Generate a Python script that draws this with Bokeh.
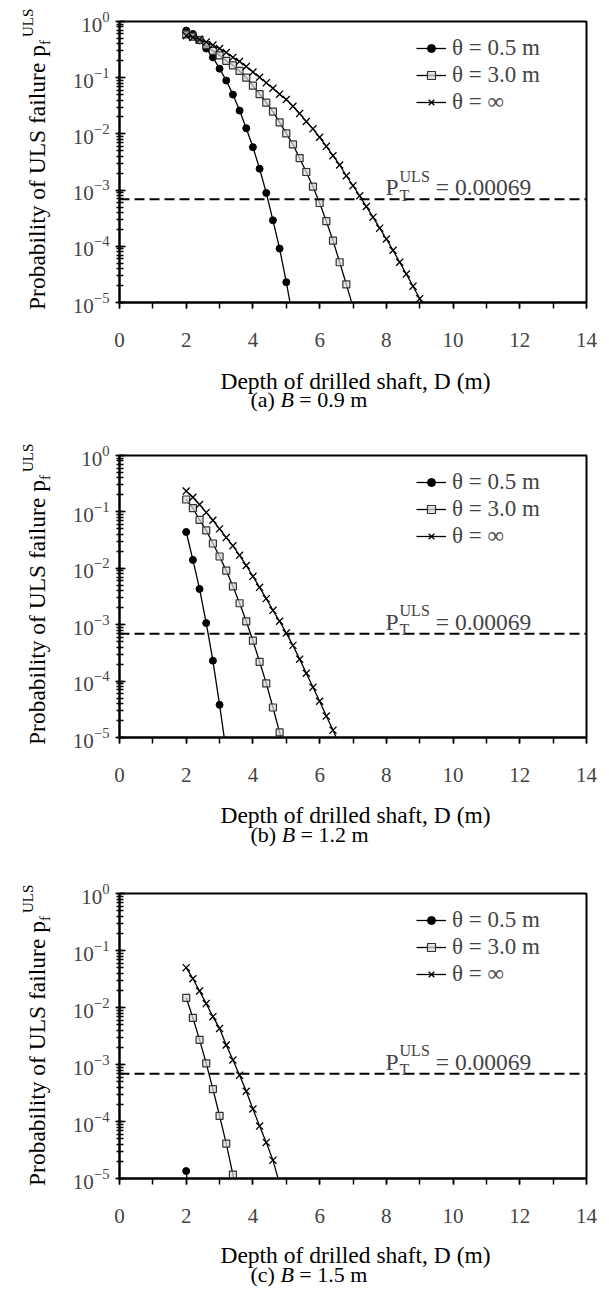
import math
from bokeh.plotting import figure
from bokeh.layouts import column, row
from bokeh.models import (Range1d, SingleIntervalTicker, LogTicker, Span, Label,
                          Legend, LegendItem, Div)
from bokeh.core.properties import value
from bokeh.embed import file_html
from bokeh.resources import INLINE

# ---------------- data ----------------
# Panel (a) B = 0.9 m
d_a_05 = [2.0, 2.2, 2.4, 2.6, 2.8, 3.0, 3.2, 3.4, 3.6, 3.8, 4.0, 4.2, 4.4, 4.6, 4.8, 5.0, 5.2]
p_a_05 = [0.69, 0.60, 0.46, 0.33, 0.23, 0.145, 0.089, 0.050, 0.026, 0.0126, 0.0058, 0.0024,
          8.9e-4, 2.9e-4, 9.1e-5, 2.3e-5, 5.2e-6]
d_a_30 = [2.0, 2.2, 2.4, 2.6, 2.8, 3.0, 3.2, 3.4, 3.6, 3.8, 4.0, 4.2, 4.4, 4.6, 4.8, 5.0,
          5.2, 5.4, 5.6, 5.8, 6.0, 6.2, 6.4, 6.6, 6.8, 7.0]
p_a_30 = [0.59, 0.54, 0.47, 0.38, 0.30, 0.25, 0.20, 0.166, 0.132, 0.100, 0.072, 0.051, 0.036,
          0.025, 0.016, 0.0102, 0.0065, 0.0037, 0.0021, 0.00115, 5.9e-4, 2.8e-4, 1.26e-4,
          5.2e-5, 2.1e-5, 8.3e-6]
d_a_inf = [2.0, 2.2, 2.4, 2.6, 2.8, 3.0, 3.2, 3.4, 3.6, 3.8, 4.0, 4.2, 4.4, 4.6, 4.8, 5.0,
           5.2, 5.4, 5.6, 5.8, 6.0, 6.2, 6.4, 6.6, 6.8, 7.0, 7.2, 7.4, 7.6, 7.8, 8.0, 8.2,
           8.4, 8.6, 8.8, 9.0, 9.2]
p_a_inf = [0.56, 0.52, 0.48, 0.43, 0.38, 0.33, 0.28, 0.23, 0.195, 0.158, 0.126, 0.102, 0.081,
           0.065, 0.051, 0.041, 0.031, 0.023, 0.0166, 0.0123, 0.0087, 0.0060, 0.0041, 0.0028,
           0.0018, 0.0012, 7.9e-4, 5.1e-4, 3.3e-4, 2.1e-4, 1.35e-4, 8.5e-5, 5.2e-5, 3.2e-5,
           1.95e-5, 1.17e-5, 6.9e-6]

# Panel (b) B = 1.2 m
d_b_05 = [2.0, 2.2, 2.4, 2.6, 2.8, 3.0, 3.2]
p_b_05 = [0.044, 0.0141, 0.0043, 0.00107, 2.3e-4, 3.8e-5, 5.6e-6]
d_b_30 = [2.0, 2.2, 2.4, 2.6, 2.8, 3.0, 3.2, 3.4, 3.6, 3.8, 4.0, 4.2, 4.4, 4.6, 4.8, 5.0]
p_b_30 = [0.166, 0.117, 0.072, 0.047, 0.0275, 0.0162, 0.0091, 0.0048, 0.0024, 0.00115,
          5.2e-4, 2.2e-4, 9.1e-5, 3.4e-5, 1.23e-5, 4.3e-6]
d_b_inf = [2.0, 2.2, 2.4, 2.6, 2.8, 3.0, 3.2, 3.4, 3.6, 3.8, 4.0, 4.2, 4.4, 4.6, 4.8, 5.0,
           5.2, 5.4, 5.6, 5.8, 6.0, 6.2, 6.4, 6.6]
p_b_inf = [0.234, 0.182, 0.135, 0.098, 0.071, 0.050, 0.035, 0.025, 0.017, 0.0112, 0.0072,
           0.0046, 0.0029, 0.0018, 0.00115, 7.1e-4, 4.3e-4, 2.45e-4, 1.38e-4, 7.8e-5, 4.4e-5,
           2.4e-5, 1.35e-5, 7.4e-6]

# Panel (c) B = 1.5 m
d_c_05 = [2.0, 2.2]
p_c_05 = [1.35e-5, 1.0e-6]
d_c_30 = [2.0, 2.2, 2.4, 2.6, 2.8, 3.0, 3.2, 3.4, 3.6]
p_c_30 = [0.0148, 0.0066, 0.0027, 0.00105, 3.7e-4, 1.26e-4, 4.1e-5, 1.17e-5, 3.2e-6]
d_c_inf = [2.0, 2.2, 2.4, 2.6, 2.8, 3.0, 3.2, 3.4, 3.6, 3.8, 4.0, 4.2, 4.4, 4.6, 4.8]
p_c_inf = [0.050, 0.032, 0.0195, 0.0117, 0.0069, 0.0043, 0.0022, 0.0012, 6.5e-4, 3.4e-4,
           1.66e-4, 8.3e-5, 4.3e-5, 2.1e-5, 8.0e-6]

series_labels = ["\u03b8 = 0.5 m", "\u03b8 = 3.0 m", "\u03b8 = \u221e"]
target_pf = 0.00069
target_text = "= 0.00069"
x_title = "Depth of drilled shaft, D (m)"
y_title = "Probability of ULS failure p"
captions = [("(a)", "B", "= 0.9 m"), ("(b)", "B", "= 1.2 m"), ("(c)", "B", "= 1.5 m")]

# ---------------- styling helpers ----------------
FONT = "Liberation Serif"
TIMES_W = {'(': 333, ')': 333, 'a': 444, 'b': 500, 'c': 444, ' ': 250, 'B': 611, '=': 564,
           '0': 500, '.': 250, '9': 500, '1': 500, '2': 500, '5': 500, 'm': 778, 'P': 556,
           'r': 333, 'o': 500, 'i': 278, 'l': 278, 't': 278, 'y': 500, 'f': 333, 'U': 722,
           'L': 611, 'S': 556, 'u': 500, 'e': 444, 'p': 500, 'T': 611}


def tw(s, size):
    return sum(TIMES_W.get(ch, 500) for ch in s) * size / 1000.0


def blank_fig(w, h):
    f = figure(width=w, height=h, x_range=Range1d(0, w), y_range=Range1d(0, h),
               toolbar_location=None, output_backend="svg", x_axis_location=None,
               y_axis_location=None, min_border_left=0, min_border_right=0,
               min_border_top=0, min_border_bottom=0)
    f.outline_line_color = None
    f.xgrid.visible = False
    f.ygrid.visible = False
    return f


LEFT_W = 60
MAIN_W = 549
BOTTOM = 60


def make_panel(data, top, frame_h):
    height = top + frame_h + BOTTOM
    p = figure(width=MAIN_W, height=height, x_range=Range1d(0, 14), y_range=Range1d(1e-5, 1),
               y_axis_type="log", output_backend="svg", toolbar_location=None,
               min_border_left=59, min_border_right=MAIN_W - 59 - 467, min_border_top=top,
               min_border_bottom=BOTTOM)
    p.outline_line_color = "black"
    p.outline_line_width = 2
    p.xgrid.visible = False
    p.ygrid.visible = False

    xa = p.xaxis[0]
    xa.ticker = SingleIntervalTicker(interval=2, num_minor_ticks=2)
    xa.axis_line_width = 2
    xa.major_tick_out = 6
    xa.major_tick_in = 0
    xa.minor_tick_out = 6
    xa.minor_tick_in = 0
    xa.major_tick_line_width = 1.5
    xa.minor_tick_line_width = 1.5
    xa.major_label_text_font = FONT
    xa.major_label_text_font_size = "21px"
    xa.major_label_standoff = 24

    ya = p.yaxis[0]
    ya.ticker = LogTicker(num_minor_ticks=10)
    ya.axis_line_width = 2
    ya.major_tick_out = 4
    ya.major_tick_in = 6
    ya.minor_tick_out = 3
    ya.minor_tick_in = 4
    ya.major_tick_line_width = 1.6
    ya.minor_tick_line_width = 1.3
    ya.major_label_text_font = FONT
    ya.major_label_text_font_size = "21px"
    ya.major_label_standoff = 6

    (d1, p1), (d2, p2), (d3, p3) = data
    l1 = p.line(d1, p1, line_color="black", line_width=1.3)
    s1 = p.scatter(d1, p1, marker="circle", size=7, fill_color="black", line_color="black")
    l2 = p.line(d2, p2, line_color="black", line_width=1.3)
    s2 = p.scatter(d2, p2, marker="square", size=7, fill_color="#d8d8d8", fill_alpha=0.7,
                   line_color="#333333", line_width=1.2)
    l3 = p.line(d3, p3, line_color="black", line_width=1.3)
    s3 = p.scatter(d3, p3, marker="x", size=10, line_color="black", line_width=1.3)

    legend = Legend(items=[LegendItem(label=series_labels[0], renderers=[l1, s1]),
                           LegendItem(label=series_labels[1], renderers=[l2, s2]),
                           LegendItem(label=series_labels[2], renderers=[l3, s3])],
                    location=(297, frame_h - 12 - 82))
    legend.label_text_font = FONT
    legend.label_text_font_size = "23px"
    legend.glyph_width = 30
    legend.glyph_height = 20
    legend.label_height = 26
    legend.spacing = 1
    legend.padding = 0
    legend.margin = 0
    legend.label_standoff = 6
    legend.border_line_alpha = 0
    legend.background_fill_alpha = 0
    p.add_layout(legend)

    p.add_layout(Span(location=target_pf, dimension="width", line_color="black",
                      line_dash="10 5", line_width=2))

    # target label P_T^ULS = 0.00069
    xp = 266
    xs = xp + tw("P", 23.5) + 1
    xe = xs + tw("ULS", 16) + 6
    p.add_layout(Label(x=0, y=target_pf, x_offset=xp, y_offset=12, text="P",
                       text_font=FONT, text_font_size="23.5px", text_baseline="alphabetic"))
    p.add_layout(Label(x=0, y=target_pf, x_offset=xs, y_offset=4, text="T",
                       text_font=FONT, text_font_size="16px", text_baseline="alphabetic"))
    p.add_layout(Label(x=0, y=target_pf, x_offset=xs, y_offset=23, text="ULS",
                       text_font=FONT, text_font_size="16px", text_baseline="alphabetic"))
    p.add_layout(Label(x=0, y=target_pf, x_offset=xe, y_offset=12, text=target_text,
                       text_font=FONT, text_font_size="23.5px", text_baseline="alphabetic"))
    return p, height


def make_ylabel(height, top, frame_h):
    # rotated axis title with subscript / superscript, as inline SVG text
    y_start = top + frame_h + 8
    main_style = f"font-family:'{FONT}',serif;font-size:23.5px;fill:#000"
    small_style = f"font-family:'{FONT}',serif;font-size:15px;fill:#000"
    svg = (
        f'<svg xmlns="http://www.w3.org/2000/svg" width="{LEFT_W}" height="{height}" '
        f'style="display:block">'
        f'<text transform="translate(45,{y_start}) rotate(-90)" x="0" y="0" '
        f'style="{main_style}">{y_title}'
        f'<tspan style="{small_style}" dy="5">f</tspan>'
        f'<tspan style="{small_style}" dx="3" dy="-17">ULS</tspan></text></svg>'
    )
    return Div(text=svg, width=LEFT_W, height=height, margin=(0, 0, 0, 0))


def make_caption(idx, height, title_from_top, cap_from_top):
    f = blank_fig(LEFT_W + MAIN_W, height)
    f.text(x=[355], y=[height - title_from_top], text=[x_title], text_font=value(FONT),
           text_font_size=value("23.5px"), text_align="center", text_baseline="middle",
           text_color="black")
    pre, it, post = captions[idx]
    cs = 22
    x0 = 250
    yc = height - cap_from_top
    sp = tw(" ", cs)
    x1 = x0 + tw(pre, cs) + sp
    x2 = x1 + tw(it, cs) + sp
    f.text(x=[x0], y=[yc], text=[pre], text_font=value(FONT), text_font_size=value(f"{cs}px"),
           text_align="left", text_baseline="middle", text_color="black")
    f.text(x=[x1], y=[yc], text=[it], text_font=value(FONT),
           text_font_size=value(f"{cs}px"), text_font_style="italic", text_align="left",
           text_baseline="middle", text_color="black")
    f.text(x=[x2], y=[yc], text=[post], text_font=value(FONT),
           text_font_size=value(f"{cs}px"), text_align="left", text_baseline="middle",
           text_color="black")
    return f


panels = [
    ([(d_a_05, p_a_05), (d_a_30, p_a_30), (d_a_inf, p_a_inf)], 21, 281, 68, 18, 37),
    ([(d_b_05, p_b_05), (d_b_30, p_b_30), (d_b_inf, p_b_inf)], 25, 282, 63, 17, 37),
    ([(d_c_05, p_c_05), (d_c_30, p_c_30), (d_c_inf, p_c_inf)], 33, 285, 53, 16, 36),
]
children = []
for i, (data, top, fh, ch, tft, cft) in enumerate(panels):
    p, h = make_panel(data, top, fh)
    children.append(row(make_ylabel(h, top, fh), p, spacing=0))
    children.append(make_caption(i, ch, tft, cft))

layout = column(*children, spacing=0)
open("out.html", "w").write(file_html(layout, INLINE))
